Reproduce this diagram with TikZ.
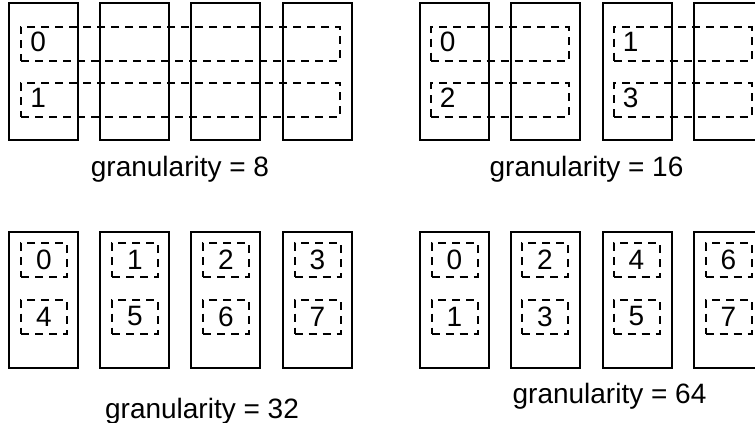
\documentclass[tikz,border=0pt]{standalone}
\usepackage{fontspec}
\setmainfont{Liberation Sans}
\usepackage{tikz}

\begin{document}
\begin{tikzpicture}
	[
		x=0.5pt, y=-0.5pt,
		font=\fontsize{14pt}{17pt}\selectfont,
		C/.style = {rectangle, draw, line width=1pt, minimum width=34.5pt, minimum height=68.5pt, inner sep=0pt},
		D/.style = {rectangle, draw, dash pattern=on 4pt off 3pt, line width=1pt, minimum height=17pt, inner sep=0pt},
		N/.style = {anchor=west, inner sep=0pt},
		L/.style = {anchor=base, inner sep=0pt},
	]

	\clip (0,0) rectangle (755,423);

	% banks
	\foreach \i/\x in {1/43.5,2/134.5,3/225.5,4/317.5}
	\node[C] (a\i) at (\x, 71.5) {};
	\foreach \i/\x in {1/454,2/545,3/637,4/728}
	\node[C] (b\i) at (\x, 71.5) {};
	\foreach \i/\x in {1/43.5,2/134.5,3/225.5,4/317.5}
	\node[C, minimum height=68pt] (c\i) at (\x, 300) {};
	\foreach \i/\x in {1/454,2/545,3/637,4/728}
	\node[C, minimum height=68pt] (d\i) at (\x, 300) {};

	% granularity 8: rows over all banks
	\node[D, minimum width=159.5pt] (r0) 	at ( 180.5, 43.5 ) {};
	\node[D, minimum width=159.5pt] (r1) 	at ( 180.5, 100.0 ) {};
	\node[N] (n0) at ([xshift=5pt, yshift=1pt] r0.west) {0};
	\node[N] (n1) at ([xshift=5pt, yshift=1pt] r1.west) {1};

	% granularity 16: rows over bank pairs
	\node[D, minimum width=69pt] (s0) 	at ( 499.5, 43.5 ) {};
	\node[D, minimum width=69pt] (s2) 	at ( 499.5, 100.0 ) {};
	\node[D, minimum width=69pt] (s1) 	at ( 682.5, 43.5 ) {};
	\node[D, minimum width=69pt] (s3) 	at ( 682.5, 100.0 ) {};
	\foreach \k in {0,1,2,3}
	\node[N] (m\k) at ([xshift=5pt, yshift=1pt] s\k.west) {\k};

	% granularity 32 and 64: one row per bank
	\foreach \i/\j/\x in {0/4/44,1/5/135,2/6/226,3/7/317.5}
	{
		\node[D, minimum width=23pt] (p\i) at (\x, 260.0) {\i};
		\node[D, minimum width=23pt] (p\j) at (\x, 316.5) {\j};
	}
	\foreach \i/\j/\x in {0/1/454.5,2/3/545,4/5/636.5,6/7/728.5}
	{
		\node[D, minimum width=23pt] (q\i) at (\x, 260.0) {\i};
		\node[D, minimum width=23pt] (q\j) at (\x, 316.5) {\j};
	}

	% captions
	\node[L] (g8) 	at ( 180.0, 176 ) {granularity = 8};
	\node[L] (g16) 	at ( 586.5, 176 ) {granularity = 16};
	\node[L] (g32) 	at ( 202.0, 418 ) {granularity = 32};
	\node[L] (g64) 	at ( 609.5, 403 ) {granularity = 64};

\end{tikzpicture}
\end{document}
